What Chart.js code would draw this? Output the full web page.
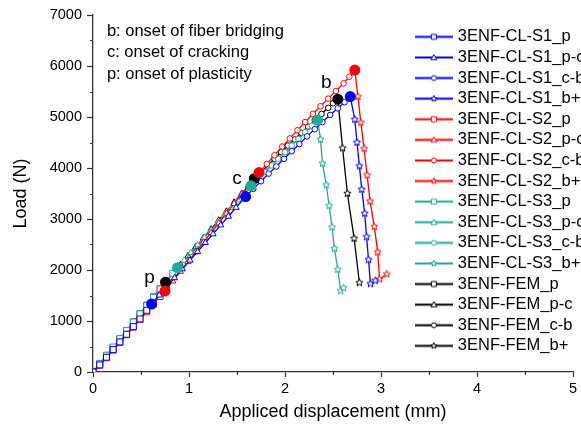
<!DOCTYPE html>
<html lang="en">
<head>
<meta charset="UTF-8">
<title>3ENF load - displacement</title>
<script src="https://cdn.jsdelivr.net/npm/chart.js"></script>
<style>
  body { margin: 0; padding: 0; background: #fff; overflow: hidden; }
  canvas { display: block; }
</style>
</head>
<body>
<canvas id="loadChart" width="581" height="426"></canvas>
<script>
// legend names, same order as the segment datasets
var seriesNames = [
  '3ENF-CL-S1_p', '3ENF-CL-S1_p-c', '3ENF-CL-S1_c-b', '3ENF-CL-S1_b+',
  '3ENF-CL-S2_p', '3ENF-CL-S2_p-c', '3ENF-CL-S2_c-b', '3ENF-CL-S2_b+',
  '3ENF-CL-S3_p', '3ENF-CL-S3_p-c', '3ENF-CL-S3_c-b', '3ENF-CL-S3_b+',
  '3ENF-FEM_p', '3ENF-FEM_p-c', '3ENF-FEM_c-b', '3ENF-FEM_b+'
];

// [displacement (mm), load (N)]
var s1_p  = [[0,0],[0.07,140],[0.14,290],[0.21,440],[0.28,590],[0.35,740],[0.42,890],[0.49,1040],[0.56,1210],[0.61,1333]];
var s1_pc = [[0.61,1333],[0.69,1505],[0.77,1675],[0.85,1845],[0.93,2020],[1.01,2190],[1.09,2360],[1.17,2535],[1.25,2705],[1.33,2880],[1.41,3050],[1.49,3225],[1.59,3440]];
var s1_cb = [[1.59,3440],[1.67,3590],[1.75,3740],[1.83,3890],[1.91,4030],[1.99,4180],[2.07,4330],[2.15,4470],[2.23,4620],[2.31,4760],[2.39,4900],[2.47,5040],[2.55,5170],[2.62,5290],[2.68,5400]];
var s1_b  = [[2.68,5400],[2.727,4950],[2.75,4500],[2.775,4040],[2.80,3580],[2.83,3110],[2.85,2650],[2.87,2200],[2.89,1730],[2.94,1790]];

var s2_p  = [[0,0],[0.07,130],[0.14,280],[0.21,430],[0.28,580],[0.35,730],[0.42,880],[0.49,1030],[0.56,1180],[0.63,1330],[0.70,1480],[0.75,1590]];
var s2_pc = [[0.75,1590],[0.83,1780],[0.91,1970],[0.99,2160],[1.07,2350],[1.15,2540],[1.23,2730],[1.31,2920],[1.39,3110],[1.47,3300],[1.55,3490],[1.63,3680],[1.73,3910]];
var s2_cb = [[1.73,3910],[1.81,4080],[1.89,4250],[1.97,4420],[2.05,4580],[2.13,4740],[2.21,4900],[2.29,5060],[2.37,5210],[2.45,5360],[2.53,5510],[2.61,5660],[2.67,5790],[2.727,5920]];
var s2_b  = [[2.727,5920],[2.76,5400],[2.79,4890],[2.824,4380],[2.855,3860],[2.886,3350],[2.93,2850],[2.966,2350],[2.985,1820],[3.06,1920]];

var s3_p  = [[0,0],[0.07,165],[0.14,330],[0.21,490],[0.28,655],[0.35,815],[0.42,980],[0.49,1140],[0.56,1305],[0.63,1465],[0.70,1630],[0.77,1795],[0.83,1935],[0.88,2045]];
var s3_pc = [[0.88,2045],[0.95,2190],[1.02,2340],[1.09,2490],[1.16,2635],[1.23,2780],[1.30,2930],[1.37,3080],[1.44,3220],[1.51,3370],[1.58,3515],[1.645,3650]];
var s3_cb = [[1.645,3650],[1.72,3790],[1.79,3920],[1.86,4050],[1.93,4180],[2.00,4310],[2.07,4440],[2.14,4570],[2.21,4700],[2.28,4830],[2.34,4940]];
var s3_b  = [[2.34,4940],[2.37,4560],[2.39,4090],[2.43,3670],[2.46,3260],[2.49,2840],[2.515,2420],[2.55,2010],[2.58,1590],[2.61,1650]];

var fem_p  = [[0,0],[0.07,160],[0.14,320],[0.21,480],[0.28,650],[0.35,810],[0.42,980],[0.49,1140],[0.56,1310],[0.63,1470],[0.70,1630],[0.755,1760]];
var fem_pc = [[0.755,1760],[0.83,1925],[0.91,2100],[0.99,2275],[1.07,2450],[1.15,2625],[1.23,2800],[1.31,2975],[1.39,3150],[1.47,3325],[1.55,3500],[1.62,3655],[1.68,3790]];
var fem_cb = [[1.68,3790],[1.75,3920],[1.82,4050],[1.89,4180],[1.96,4310],[2.03,4440],[2.10,4560],[2.17,4690],[2.24,4810],[2.31,4940],[2.38,5060],[2.45,5180],[2.50,5270],[2.55,5350]];
var fem_b  = [[2.55,5350],[2.60,4390],[2.65,3500],[2.72,2620],[2.775,1750]];

// onset points p, c, b (big filled dots)
var s1_onset  = [[0.61,1333],[1.59,3440],[2.68,5400]];
var s2_onset  = [[0.75,1590],[1.73,3910],[2.727,5920]];
var s3_onset  = [[0.88,2045],[1.645,3650],[2.34,4940]];
var fem_onset = [[0.755,1760],[1.68,3790],[2.55,5350]];

// axis ticks
var xTicks = [0, 1, 2, 3, 4, 5];
var yTicks = [0, 1000, 2000, 3000, 4000, 5000, 6000, 7000];
var xMinor = [0.5, 1.5, 2.5, 3.5, 4.5];
var yMinor = [500, 1500, 2500, 3500, 4500, 5500, 6500];

// text on the plot
var notes = ['b: onset of fiber bridging', 'c: onset of cracking', 'p: onset of plasticity'];
var onsetLetters = [['b', 2.43, 5670], ['c', 1.50, 3780], ['p', 0.59, 1840]];

var FONT = "'Liberation Sans', Arial, sans-serif";

var curves = [
  { color: '#0000ff', segs: [s1_p, s1_pc, s1_cb, s1_b], onset: s1_onset },
  { color: '#ff0000', segs: [s2_p, s2_pc, s2_cb, s2_b], onset: s2_onset },
  { color: '#20a898', segs: [s3_p, s3_pc, s3_cb, s3_b], onset: s3_onset },
  { color: '#000000', segs: [fem_p, fem_pc, fem_cb, fem_b], onset: fem_onset }
];
var segStyles = ['rect', 'triangle', 'circle', 'star'];
var segRadius = [4.2, 3.6, 2.8, 4];

function drawStar(g, cx, cy, r, color) {
  g.beginPath();
  for (var i = 0; i < 10; i++) {
    var rr = i % 2 ? r * 0.45 : r;
    var a = -Math.PI / 2 + i * Math.PI / 5;
    g.lineTo(cx + rr * Math.cos(a), cy + rr * Math.sin(a));
  }
  g.closePath();
  g.fillStyle = '#fff';
  g.fill();
  g.strokeStyle = color;
  g.lineWidth = 1;
  g.stroke();
}

function makeStar(color, r) {
  var c = document.createElement('canvas');
  var s = Math.ceil(r * 2 + 3);
  c.width = s; c.height = s;
  drawStar(c.getContext('2d'), s / 2, s / 2, r, color);
  return c;
}

// line with a small marker in the middle, like the legend of the original plot
function makeLegendIcon(color, style) {
  var c = document.createElement('canvas');
  c.width = 38; c.height = 11;
  var g = c.getContext('2d');
  var cx = 19, cy = 5.5;
  g.strokeStyle = color;
  g.lineWidth = 1.8;
  g.beginPath(); g.moveTo(0, cy); g.lineTo(38, cy); g.stroke();
  if (style === 'star') {
    drawStar(g, cx, cy, 3.2, color);
    return c;
  }
  g.lineWidth = 1;
  g.fillStyle = '#fff';
  g.beginPath();
  if (style === 'rect') g.rect(cx - 2.5, cy - 2.5, 5, 5);
  else if (style === 'triangle') { g.moveTo(cx, cy - 3); g.lineTo(cx + 3, cy + 2.3); g.lineTo(cx - 3, cy + 2.3); g.closePath(); }
  else g.arc(cx, cy, 2.5, 0, Math.PI * 2);
  g.fill();
  g.stroke();
  return c;
}

function toXY(pairs) {
  return pairs.map(function (p) { return { x: p[0], y: p[1] }; });
}

var datasets = [];
var legendIcons = [];
curves.forEach(function (cv, ci) {
  var star = makeStar(cv.color, 3.8);
  cv.segs.forEach(function (seg, si) {
    datasets.push({
      label: seriesNames[ci * 4 + si],
      data: toXY(seg),
      showLine: true,
      borderColor: cv.color,
      borderWidth: 1.3,
      pointStyle: si === 3 ? star : segStyles[si],
      pointRadius: segRadius[si],
      pointBackgroundColor: '#fff',
      pointBorderColor: cv.color,
      pointBorderWidth: 1
    });
    legendIcons.push(makeLegendIcon(cv.color, segStyles[si]));
  });
});
curves.forEach(function (cv) {
  datasets.push({
    label: '',
    data: toXY(cv.onset),
    showLine: false,
    order: -1,
    pointStyle: 'circle',
    pointRadius: 5.5,
    pointBackgroundColor: cv.color,
    pointBorderColor: cv.color,
    pointBorderWidth: 0
  });
});

// put the legend inside the plot, on the right
var legendMover = {
  id: 'legendMover',
  afterLayout: function (chart) {
    var lg = chart.legend;
    lg.left = 414;
    lg.top = 24.5;
    lg.right = 760;
    lg.bottom = 426;
  }
};

// minor ticks and the text notes
var extras = {
  id: 'extras',
  afterDraw: function (chart) {
    var ctx = chart.ctx;
    var xs = chart.scales.x, ys = chart.scales.y;
    var area = chart.chartArea;
    ctx.save();
    ctx.strokeStyle = '#333';
    ctx.lineWidth = 1.2;
    ctx.beginPath();
    yMinor.forEach(function (v) {
      var py = Math.round(ys.getPixelForValue(v)) + 0.5;
      ctx.moveTo(area.left - 3, py); ctx.lineTo(area.left, py);
    });
    xMinor.forEach(function (v) {
      var px = Math.round(xs.getPixelForValue(v)) + 0.5;
      ctx.moveTo(px, area.bottom); ctx.lineTo(px, area.bottom + 3);
    });
    ctx.stroke();

    ctx.fillStyle = '#000';
    ctx.textBaseline = 'middle';
    ctx.textAlign = 'left';
    ctx.font = '16.5px ' + FONT;
    notes.forEach(function (t, i) {
      ctx.fillText(t, xs.getPixelForValue(0.145), ys.getPixelForValue(6680 - i * 420));
    });
    ctx.textAlign = 'center';
    ctx.font = '19px ' + FONT;
    onsetLetters.forEach(function (l) {
      ctx.fillText(l[0], xs.getPixelForValue(l[1]), ys.getPixelForValue(l[2]));
    });
    ctx.restore();
  }
};

var ctx = document.getElementById('loadChart').getContext('2d');
var loadChart = new Chart(ctx, {
  type: 'scatter',
  data: { datasets: datasets },
  options: {
    responsive: false,
    animation: false,
    layout: { padding: { left: 0, top: 15, right: 8, bottom: 0 } },
    plugins: {
      tooltip: { enabled: false },
      legend: {
        position: 'chartArea',
        align: 'start',
        labels: {
          usePointStyle: true,
          pointStyleWidth: 31.5,
          padding: 4.1,
          color: '#000',
          font: { family: FONT, size: 16.5 },
          filter: function (item) { return item.datasetIndex < 16; },
          generateLabels: function (chart) {
            var items = Chart.defaults.plugins.legend.labels.generateLabels(chart);
            items.forEach(function (it) {
              if (it.datasetIndex < 16) it.pointStyle = legendIcons[it.datasetIndex];
            });
            return items;
          }
        }
      }
    },
    scales: {
      x: {
        type: 'linear',
        min: 0, max: 5,
        afterBuildTicks: function (s) { s.ticks = xTicks.map(function (v) { return { value: v }; }); },
        afterFit: function (s) { s.height = 54; },
        grid: { drawOnChartArea: false, tickLength: 5, tickColor: '#333', tickWidth: 1.2 },
        border: { color: '#333', width: 1.3 },
        ticks: { padding: 3, color: '#000', font: { family: FONT, size: 14.5 }, maxRotation: 0,
                 callback: function (v) { return String(v); } },
        title: { display: true, text: 'Appliced displacement (mm)', color: '#000',
                 font: { family: FONT, size: 18 }, padding: { top: 0, bottom: 3 } }
      },
      y: {
        type: 'linear',
        min: 0, max: 7000,
        afterBuildTicks: function (s) { s.ticks = yTicks.map(function (v) { return { value: v }; }); },
        afterFit: function (s) { s.width = 93; },
        grid: { drawOnChartArea: false, tickLength: 6, tickColor: '#333', tickWidth: 1.2 },
        border: { color: '#333', width: 1.3 },
        ticks: { padding: 5, color: '#000', font: { family: FONT, size: 14.5 },
                 callback: function (v) { return String(v); } },
        title: { display: true, text: 'Load (N)', color: '#000',
                 font: { family: FONT, size: 18 }, padding: { top: 10, bottom: 0 } }
      }
    }
  },
  plugins: [legendMover, extras]
});
</script>
</body>
</html>
